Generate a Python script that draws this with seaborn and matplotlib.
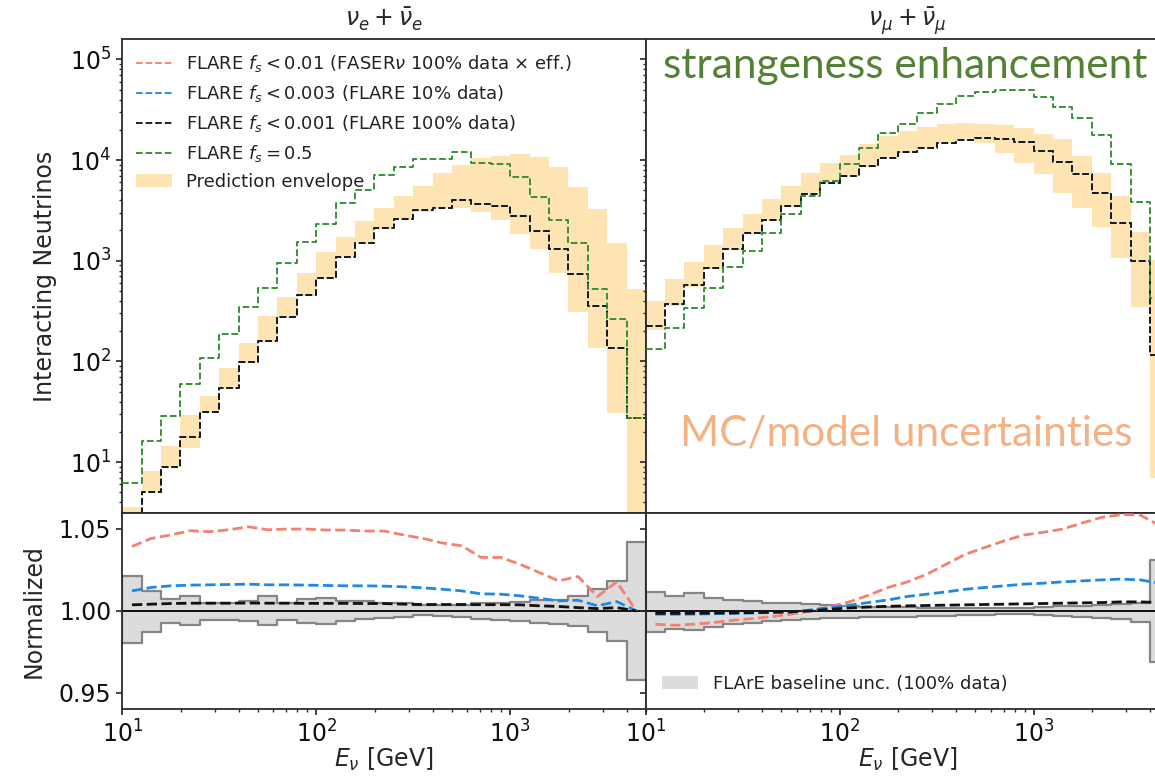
import matplotlib
matplotlib.use("Agg")
import matplotlib.pyplot as plt
from matplotlib.lines import Line2D
from matplotlib.patches import Patch
from matplotlib.ticker import LogLocator, NullFormatter, FormatStrFormatter
import numpy as np
import seaborn as sns

# ---------------- data ----------------
# energy bin edges [GeV], 10 bins per decade
E_EDGES = [10.0, 12.59, 15.85, 19.95, 25.12, 31.62, 39.81, 50.12, 63.10, 79.43,
           100.0, 125.9, 158.5, 199.5, 251.2, 316.2, 398.1, 501.2, 631.0, 794.3,
           1000.0, 1259.0, 1585.0, 1995.0, 2512.0, 3162.0, 3981.0, 5012.0]

# nu_e + nu_e-bar : interacting neutrinos per bin
NUE_BASE = [2.5, 5.1, 8.9, 17.7, 31.8, 54.2, 98, 160, 275, 458, 680, 1098, 1493, 2104,
            2584, 3172, 3365, 4010, 3637, 3500, 2805, 1990, 1300, 735, 356, 137, 27.4]
NUE_FS05 = [6.2, 16.4, 29, 60, 108, 188, 346, 541, 957, 1549, 2318, 3724, 5046, 7113,
            8600, 10170, 10170, 11940, 9420, 9080, 6843, 4327, 2542, 1514, 525, 262, 27.4]
NUE_ENV_HI = [3.62, 8.26, 14.5, 29.4, 45.5, 85.7, 152, 283, 441, 751, 1231, 1711, 2500, 3320,
              4398, 5521, 7380, 8930, 10400, 10960, 11400, 10640, 8590, 5445, 3245, 1493, 525]
NUE_ENV_LO = [1.0, 5.11, 8.9, 13.8, 31, 53, 96, 157, 269, 448, 670, 1084, 1493, 2070,
              2584, 3070, 3320, 3320, 3070, 2540, 1845, 1300, 751, 313, 135, 30.6, 1.0]

# nu_mu + nu_mu-bar
NUMU_BASE = [225, 372, 575, 855, 1310, 1875, 2541, 3525, 4604, 5874, 6997, 8730, 10400, 11940,
             13270, 14670, 15920, 16440, 16070, 15200, 12390, 9510, 7230, 4680, 2356, 1003, 116]
NUMU_FS05 = [132, 217, 343, 541, 874, 1250, 1901, 2917, 4430, 6237, 9080, 13090, 18450, 22800,
             29100, 36000, 43500, 47700, 49550, 50100, 42600, 33400, 26300, 17750, 9080, 3860, 425]
NUMU_ENV_HI = [399, 655, 980, 1436, 2104, 2897, 4074, 5560, 7380, 9290, 11220, 14420, 17340, 19420,
               21420, 22650, 23170, 22900, 22280, 20940, 18030, 16070, 10960, 7480, 4398, 1944, 1018]
NUMU_ENV_LO = [206, 356, 553, 830, 1279, 1845, 2500, 3443, 4571, 5870, 7000, 8590, 10400, 11830,
               13280, 14670, 15800, 14670, 11670, 9420, 7230, 4745, 3365, 2180, 1075, 350, 6.9]

# normalized ratios (nu_e)
NUE_R_001 = [1.0393, 1.0442, 1.0463, 1.0489, 1.0483, 1.0495, 1.0513, 1.0495, 1.0499, 1.0499,
             1.0493, 1.0493, 1.0487, 1.0487, 1.0463, 1.0442, 1.0414, 1.0397, 1.0326, 1.0326,
             1.0285, 1.0234, 1.0183, 1.0210, 1.0088, 1.0177, 1.0000]
NUE_R_0003 = [1.0122, 1.0143, 1.0153, 1.0157, 1.0159, 1.0161, 1.0163, 1.0159, 1.0159, 1.0157,
              1.0155, 1.0153, 1.0153, 1.0151, 1.0147, 1.0141, 1.0132, 1.0122, 1.0104, 1.0102,
              1.0092, 1.0077, 1.0061, 1.0065, 1.0031, 1.0057, 1.0000]
NUE_R_0001 = [1.0037, 1.0041, 1.0045, 1.0047, 1.0047, 1.0047, 1.0048, 1.0047, 1.0047, 1.0046,
              1.0046, 1.0046, 1.0045, 1.0045, 1.0041, 1.0039, 1.0039, 1.0039, 1.0038, 1.0038,
              1.0037, 1.0031, 1.0027, 1.0020, 1.0014, 1.0020, 1.0000]
NUE_UNC_HI = [1.0210, 1.0122, 1.0075, 1.0088, 1.0051, 1.0051, 1.0061, 1.0092, 1.0051, 1.0071,
              1.0081, 1.0061, 1.0061, 1.0051, 1.0047, 1.0035, 1.0037, 1.0037, 1.0047, 1.0051,
              1.0055, 1.0065, 1.0065, 1.0092, 1.0132, 1.0183, 1.0422]
NUE_UNC_LO = [0.9802, 0.9872, 0.9925, 0.9914, 0.9943, 0.9943, 0.9939, 0.9912, 0.9943, 0.9929,
              0.9919, 0.9939, 0.9949, 0.9959, 0.9963, 0.9974, 0.9969, 0.9965, 0.9953, 0.9945,
              0.9939, 0.9929, 0.9923, 0.9908, 0.9872, 0.9817, 0.9578]

# normalized ratios (nu_mu)
NUMU_R_001 = [0.9919, 0.9912, 0.9919, 0.9929, 0.9943, 0.9953, 0.9965, 0.9980, 1.0000, 1.0026,
              1.0055, 1.0096, 1.0143, 1.0177, 1.0224, 1.0285, 1.0346, 1.0387, 1.0428, 1.0463,
              1.0479, 1.0499, 1.0536, 1.0570, 1.0587, 1.0585, 1.0520]
NUMU_R_0003 = [0.9980, 0.9980, 0.9980, 0.9983, 0.9985, 0.9987, 0.9990, 0.9993, 1.0006, 1.0020,
               1.0035, 1.0051, 1.0067, 1.0088, 1.0102, 1.0116, 1.0132, 1.0143, 1.0153, 1.0163,
               1.0169, 1.0177, 1.0183, 1.0189, 1.0194, 1.0189, 1.0169]
NUMU_R_0001 = [0.9985, 0.9985, 0.9986, 0.9987, 0.9988, 0.9990, 0.9992, 0.9995, 1.0000, 1.0010,
               1.0018, 1.0024, 1.0028, 1.0031, 1.0033, 1.0035, 1.0037, 1.0039, 1.0041, 1.0043,
               1.0045, 1.0047, 1.0049, 1.0051, 1.0055, 1.0055, 1.0051]
NUMU_UNC_HI = [1.0116, 1.0092, 1.0108, 1.0081, 1.0065, 1.0061, 1.0051, 1.0047, 1.0041, 1.0037,
               1.0031, 1.0026, 1.0024, 1.0024, 1.0020, 1.0020, 1.0018, 1.0018, 1.0020, 1.0020,
               1.0024, 1.0031, 1.0031, 1.0035, 1.0041, 1.0051, 1.0312]
NUMU_UNC_LO = [0.9872, 0.9892, 0.9884, 0.9904, 0.9919, 0.9929, 0.9939, 0.9945, 0.9949, 0.9955,
               0.9959, 0.9963, 0.9965, 0.9965, 0.9969, 0.9969, 0.9974, 0.9974, 0.9980, 0.9980,
               0.9974, 0.9969, 0.9963, 0.9959, 0.9949, 0.9933, 0.9688]

LABELS = [r"FLARE $f_s < 0.01$ (FASER$\nu$ 100% data $\times$ eff.)",
          r"FLARE $f_s < 0.003$ (FLARE 10% data)",
          r"FLARE $f_s < 0.001$ (FLARE 100% data)",
          r"FLARE $f_s = 0.5$",
          "Prediction envelope"]
UNC_LABEL = "FLArE baseline unc. (100% data)"
TITLES = [r"$\nu_e + \bar{\nu}_e$", r"$\nu_\mu + \bar{\nu}_\mu$"]

# ---------------- style ----------------
C_RED, C_BLUE, C_BLACK, C_GREEN = "#f4806f", "#1e88e5", "#111111", "#2a8a2a"
C_ENV = "#ffe4b3"
C_UNC_FACE, C_UNC_EDGE = "#dcdcdc", "#858585"

sns.set_theme(style="ticks")
plt.rcParams.update({
    "font.family": ["DejaVu Sans"],
    "mathtext.fontset": "dejavusans",
    "axes.edgecolor": "#2b2b2b",
    "axes.linewidth": 1.3,
    "xtick.color": "#2b2b2b",
    "ytick.color": "#2b2b2b",
    "xtick.labelcolor": "#111111",
    "ytick.labelcolor": "#111111",
    "xtick.labelsize": 17,
    "ytick.labelsize": 17,
    "axes.labelsize": 17,
    "axes.titlesize": 17,
    "xtick.major.size": 4.5,
    "ytick.major.size": 4.5,
    "xtick.minor.size": 2.5,
    "ytick.minor.size": 2.5,
})

W, H = 1155, 778
fig = plt.figure(figsize=(W / 100, H / 100), dpi=100)


def rect(x_left, y_top, width, y_bot):
    return [x_left / W, 1 - y_bot / H, width / W, (y_bot - y_top) / H]


XL, XR, WPX = 122.3, 645.7, 523.4
TOP_T, MID, BOT_B = 39.3, 512.5, 709.3

axTL = fig.add_axes(rect(XL, TOP_T, WPX, MID))
axBL = fig.add_axes(rect(XL, MID, WPX, BOT_B))
axTR = fig.add_axes(rect(XR, TOP_T, WPX, MID))
axBR = fig.add_axes(rect(XR, MID, WPX, BOT_B))

edges = np.array(E_EDGES)
centers = np.sqrt(edges[:-1] * edges[1:])


def step_y(vals):
    return list(vals) + [vals[-1]]


def log_minor(axis):
    axis.set_minor_locator(LogLocator(base=10, subs=np.arange(2, 10) * 1.0, numticks=20))
    axis.set_minor_formatter(NullFormatter())


def draw_top(ax, base, fs05, env_lo, env_hi, title):
    ax.set_xscale("log")
    ax.set_yscale("log")
    ax.fill_between(edges, step_y(env_lo), step_y(env_hi), step="post",
                    color=C_ENV, linewidth=0, zorder=1)
    for col in (C_RED, C_BLUE, C_BLACK):
        sns.lineplot(x=edges, y=step_y(base), drawstyle="steps-post", ax=ax,
                     color=col, linestyle="--", linewidth=1.3, estimator=None,
                     sort=False, legend=False, zorder=3)
    sns.lineplot(x=edges, y=step_y(fs05), drawstyle="steps-post", ax=ax,
                 color=C_GREEN, linestyle="--", linewidth=1.3, estimator=None,
                 sort=False, legend=False, zorder=3)
    ax.set_xlim(10, 5000)
    ax.set_ylim(10 ** 0.5, 10 ** 5.2)
    log_minor(ax.xaxis)
    log_minor(ax.yaxis)
    ax.set_title(title, pad=9)
    ax.tick_params(axis="x", which="both", labelbottom=False)
    ax.set_xlabel("")


def draw_bot(ax, r001, r0003, r0001, lo, hi):
    ax.set_xscale("log")
    ax.fill_between(edges, step_y(lo), step_y(hi), step="post",
                    facecolor=C_UNC_FACE, edgecolor=C_UNC_EDGE, linewidth=1.6,
                    zorder=1, label=UNC_LABEL)
    ax.axhline(1.0, color="black", linewidth=1.3, zorder=2)
    for vals, col in ((r001, C_RED), (r0003, C_BLUE), (r0001, C_BLACK)):
        sns.lineplot(x=centers, y=vals, ax=ax, color=col, linestyle="--",
                     linewidth=2.0, estimator=None, sort=False, legend=False,
                     zorder=3)
    ax.set_xlim(10, 5000)
    ax.set_ylim(0.94, 1.06)
    ax.set_yticks([0.95, 1.00, 1.05])
    log_minor(ax.xaxis)
    ax.set_xlabel(r"$E_\nu$ [GeV]", labelpad=-1)


draw_top(axTL, NUE_BASE, NUE_FS05, NUE_ENV_LO, NUE_ENV_HI, TITLES[0])
draw_top(axTR, NUMU_BASE, NUMU_FS05, NUMU_ENV_LO, NUMU_ENV_HI, TITLES[1])
draw_bot(axBL, NUE_R_001, NUE_R_0003, NUE_R_0001, NUE_UNC_LO, NUE_UNC_HI)
draw_bot(axBR, NUMU_R_001, NUMU_R_0003, NUMU_R_0001, NUMU_UNC_LO, NUMU_UNC_HI)

axBL.yaxis.set_major_formatter(FormatStrFormatter("%.2f"))
axTR.tick_params(axis="y", which="both", labelleft=False)
axBR.tick_params(axis="y", which="both", labelleft=False)
axTR.set_ylabel("")
axBR.set_ylabel("")

axTL.set_ylabel("Interacting Neutrinos")
axBL.set_ylabel("Normalized")
axTL.yaxis.set_label_coords((57 - XL) / WPX, 0.5)
axBL.yaxis.set_label_coords((46 - XL) / WPX, 0.5)

for ax in (axTL, axBL, axTR, axBR):
    for s in ax.spines.values():
        s.set_visible(True)

# legends
handles = [Line2D([], [], color=C_RED, linestyle="--", linewidth=1.3),
           Line2D([], [], color=C_BLUE, linestyle="--", linewidth=1.3),
           Line2D([], [], color=C_BLACK, linestyle="--", linewidth=1.3),
           Line2D([], [], color=C_GREEN, linestyle="--", linewidth=1.3),
           Patch(facecolor=C_ENV, edgecolor="none")]
axTL.legend(handles, LABELS, loc="upper left", frameon=False, fontsize=13,
            borderaxespad=0.35, labelcolor="#222222")
axBR.legend([Patch(facecolor=C_UNC_FACE, edgecolor="none")], [UNC_LABEL],
            loc="lower left", frameon=False, fontsize=13, labelcolor="#222222")


# slide annotations overlaid on the right panel
def fit_text(x_px, y_px, s, color, width_px):
    t = fig.text(x_px / W, 1 - y_px / H, s, color=color, fontsize=30,
                 family=["Lato", "DejaVu Sans"], ha="left", va="baseline")
    r = fig.canvas.get_renderer()
    w = t.get_window_extent(renderer=r).width
    t.set_fontsize(30 * width_px / w)
    return t


fit_text(663, 78, "strangeness enhancement", "#548235", 485)
fit_text(680, 445, "MC/model uncertainties", "#f4b183", 452)

fig.savefig("out.png", dpi=100)
